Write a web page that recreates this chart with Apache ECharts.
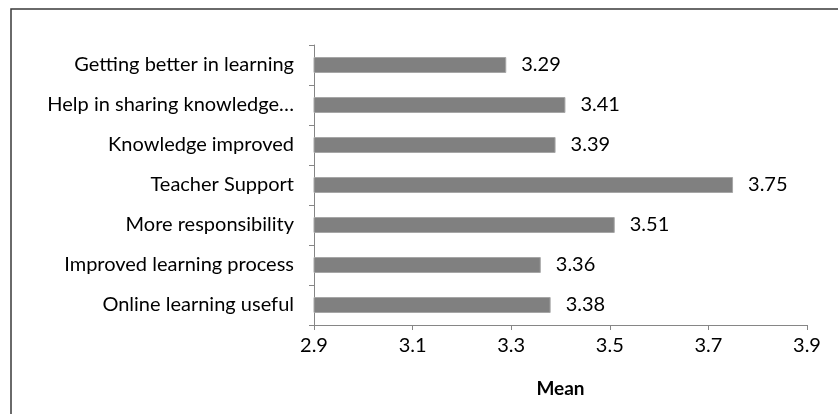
<!DOCTYPE html>
<html>
<head>
<meta charset="utf-8">
<script src="https://cdn.jsdelivr.net/npm/echarts@6/dist/echarts.min.js"></script>
<style>
  html, body { margin: 0; padding: 0; background: #fff; }
  #chart { width: 838px; height: 414px; }
</style>
</head>
<body>
<div id="chart"></div>
<script>
// Survey items, listed top to bottom
const categories = [
  'Getting better in learning',
  'Help in sharing knowledge\u2026',
  'Knowledge improved',
  'Teacher Support',
  'More responsibility',
  'Improved learning process',
  'Online learning useful'
];
// Mean score per item
const meanValues = [3.29, 3.41, 3.39, 3.75, 3.51, 3.36, 3.38];
// Value axis ticks
const axisTicks = [2.9, 3.1, 3.3, 3.5, 3.7, 3.9];

const FONT = 'Lato';
const FS = 20;
const chart = echarts.init(document.getElementById('chart'), null, { renderer: 'canvas' });

chart.setOption({
  backgroundColor: '#ffffff',
  animation: false,
  textStyle: { fontFamily: FONT },
  graphic: [{
    type: 'rect',
    shape: { x: 11, y: 9, width: 860, height: 440 },
    style: { fill: 'none', stroke: '#3a3a3a', lineWidth: 1.5 },
    silent: true,
    z: 0
  }],
  grid: { left: 314, right: 31, top: 45, bottom: 89, containLabel: false },
  xAxis: {
    type: 'value',
    min: axisTicks[0],
    max: axisTicks[axisTicks.length - 1],
    interval: 0.2,
    name: 'Mean',
    nameLocation: 'middle',
    nameGap: 54,
    nameTextStyle: { fontFamily: FONT, fontSize: 19, fontWeight: 'bold', color: '#000' },
    axisLine: { show: true, lineStyle: { color: '#868686', width: 1 } },
    axisTick: { show: true, length: 5, lineStyle: { color: '#868686' } },
    splitLine: { show: false },
    axisLabel: {
      fontFamily: FONT, fontSize: FS, color: '#000', margin: 11,
      formatter: v => (Math.round(v * 10) / 10).toFixed(1)
    }
  },
  yAxis: {
    type: 'category',
    data: categories,
    inverse: true,
    axisLine: { show: true, lineStyle: { color: '#868686', width: 1 } },
    axisTick: { show: true, length: 5, lineStyle: { color: '#868686' } },
    axisLabel: { fontFamily: FONT, fontSize: FS, color: '#000', margin: 20 }
  },
  series: [{
    type: 'bar',
    data: meanValues,
    barWidth: 16,
    itemStyle: { color: '#808080', borderColor: '#a6a6a6', borderWidth: 1 },
    label: {
      show: true,
      position: 'right',
      distance: 15,
      fontFamily: FONT,
      fontSize: FS,
      color: '#000',
      formatter: p => p.value.toFixed(2)
    }
  }]
});
</script>
</body>
</html>
